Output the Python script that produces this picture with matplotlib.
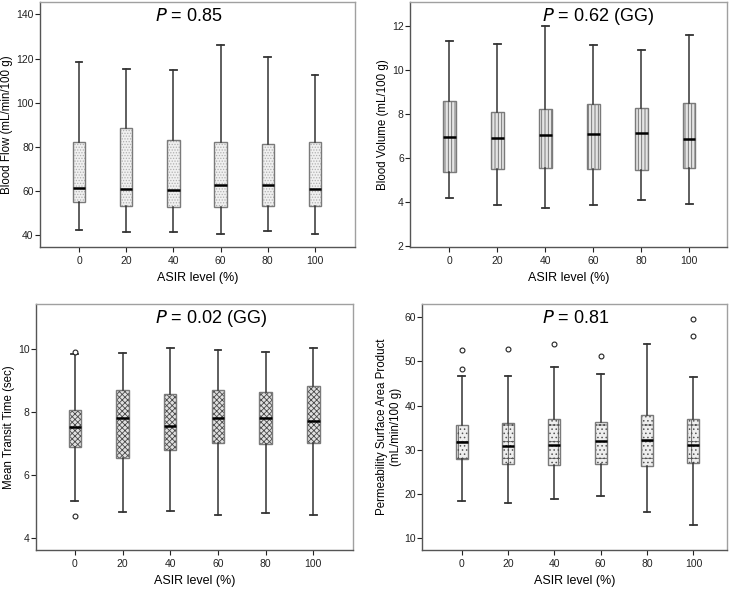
import numpy as np
import matplotlib
matplotlib.use('Agg')
import matplotlib.pyplot as plt
from matplotlib.colors import to_rgba

plt.rcParams['font.family'] = ['Liberation Sans', 'DejaVu Sans']
plt.rcParams['hatch.linewidth'] = 0.6

# ASIR levels (x categories)
levels = ['0', '20', '40', '60', '80', '100']

# Blood flow (mL/min/100 g)
bf_whislo = [42.3, 41.4, 41.2, 40.6, 42.0, 40.6]
bf_q1 = [54.8, 53.4, 52.7, 52.7, 53.0, 53.3]
bf_med = [61.3, 60.7, 60.5, 62.5, 62.5, 60.7]
bf_q3 = [82.0, 88.3, 83.2, 82.4, 81.1, 82.3]
bf_whishi = [118.5, 115.1, 114.6, 126.3, 120.5, 112.4]
bf_fliers = [[], [], [], [], [], []]

# Blood volume (mL/100 g)
bv_whislo = [4.18, 3.89, 3.73, 3.86, 4.11, 3.92]
bv_q1 = [5.40, 5.53, 5.58, 5.53, 5.47, 5.56]
bv_med = [6.95, 6.93, 7.05, 7.11, 7.14, 6.86]
bv_q3 = [8.62, 8.09, 8.24, 8.45, 8.29, 8.50]
bv_whishi = [11.34, 11.17, 12.03, 11.13, 10.92, 11.61]
bv_fliers = [[], [], [], [], [], []]

# Mean transit time (sec)
mtt_whislo = [5.19, 4.84, 4.86, 4.75, 4.79, 4.74]
mtt_q1 = [6.89, 6.55, 6.81, 7.02, 6.99, 7.02]
mtt_med = [7.53, 7.82, 7.57, 7.82, 7.82, 7.74]
mtt_q3 = [8.08, 8.70, 8.58, 8.72, 8.66, 8.83]
mtt_whishi = [9.84, 9.89, 10.05, 9.98, 9.90, 10.03]
mtt_fliers = [[9.93, 4.71], [], [], [], [], []]

# Permeability surface area product (mL/min/100 g)
ps_whislo = [18.5, 18.1, 18.8, 19.6, 15.9, 13.0]
ps_q1 = [27.9, 26.7, 26.5, 26.7, 26.4, 27.0]
ps_med = [31.8, 30.8, 31.0, 32.0, 32.2, 31.0]
ps_q3 = [35.6, 36.0, 37.1, 36.4, 38.0, 37.1]
ps_whishi = [46.8, 46.8, 48.8, 47.2, 53.9, 46.4]
ps_fliers = [[52.5, 48.2], [52.8], [54.0], [51.3], [], [59.5, 55.8]]

panels = [
    dict(lo=bf_whislo, q1=bf_q1, med=bf_med, q3=bf_q3, hi=bf_whishi, fl=bf_fliers,
         ylabel='Blood Flow (mL/min/100 g)', ptext='0.85', ylim=(34.6, 145.6),
         yticks=[40, 60, 80, 100, 120, 140], hatch='......', hcol='#b0b0b0', fcol='#f0f0f0',
         pos=[0.0547, 0.5806, 0.4309, 0.416], xlim=(-0.83, 5.85), tx=0.365),
    dict(lo=bv_whislo, q1=bv_q1, med=bv_med, q3=bv_q3, hi=bv_whishi, fl=bv_fliers,
         ylabel='Blood Volume (mL/100 g)', ptext='0.62 (GG)', ylim=(1.97, 13.1),
         yticks=[2, 4, 6, 8, 10, 12], hatch='|||||', hcol='#6a6a6a', fcol='#e4e4e4',
         pos=[0.5609, 0.5806, 0.4332, 0.416], xlim=(-0.82, 5.78), tx=0.417),
    dict(lo=mtt_whislo, q1=mtt_q1, med=mtt_med, q3=mtt_q3, hi=mtt_whishi, fl=mtt_fliers,
         ylabel='Mean Transit Time (sec)', ptext='0.02 (GG)', ylim=(3.63, 11.44),
         yticks=[4, 6, 8, 10], hatch='xxxxxx', hcol='#4a4a4a', fcol='#e0e0e0',
         pos=[0.0488, 0.0662, 0.434, 0.4177], xlim=(-0.82, 5.83), tx=0.376),
    dict(lo=ps_whislo, q1=ps_q1, med=ps_med, q3=ps_q3, hi=ps_whishi, fl=ps_fliers,
         ylabel='Permeability Surface Area Product\n(mL/min/100 g)', ptext='0.81', ylim=(7.36, 63.0),
         yticks=[10, 20, 30, 40, 50, 60], hatch='+....', hcol='#555555', fcol='#eeeeee',
         pos=[0.5777, 0.0662, 0.4172, 0.4177], xlim=(-0.85, 5.73), tx=0.392),
]

fig = plt.figure(figsize=(7.31, 5.89), dpi=100)

for p in panels:
    ax = fig.add_axes(p['pos'])
    stats = []
    for i in range(len(levels)):
        stats.append(dict(med=p['med'][i], q1=p['q1'][i], q3=p['q3'][i],
                          whislo=p['lo'][i], whishi=p['hi'][i], fliers=p['fl'][i]))
    bp = ax.bxp(stats, positions=np.arange(len(levels)), widths=0.26, capwidths=0.14,
                patch_artist=True, showfliers=True,
                boxprops=dict(facecolor=p['fcol'], edgecolor='#7a7a7a', linewidth=1.0),
                whiskerprops=dict(color='#333333', linewidth=1.1),
                capprops=dict(color='#333333', linewidth=1.3),
                medianprops=dict(color='black', linewidth=1.8),
                flierprops=dict(marker='o', markersize=3.5, markerfacecolor='white',
                                markeredgecolor='#222222', markeredgewidth=0.8))
    for box in bp['boxes']:
        box.set_hatch(p['hatch'])
        # hatch colour differs from the box outline
        box._hatch_color = to_rgba(p['hcol'])

    ax.set_xlim(p['xlim'])
    ax.set_ylim(p['ylim'])
    ax.set_xticks(np.arange(len(levels)))
    ax.set_xticklabels(levels)
    ax.set_yticks(p['yticks'])
    ax.tick_params(labelsize=7.5, length=3.5, width=0.8, colors='#222222', direction='out')
    ax.tick_params(axis='y', pad=1)
    ax.tick_params(axis='x', pad=3)
    ax.set_xlabel('ASIR level (%)', fontsize=9, labelpad=4)
    ax.set_ylabel(p['ylabel'], fontsize=8.3, labelpad=2)
    for side in ['left', 'bottom']:
        ax.spines[side].set_color('#555555')
    for side in ['top', 'right']:
        ax.spines[side].set_color('#a0a0a0')
    for s in ax.spines.values():
        s.set_linewidth(1.0)
    ax.text(p['tx'], 0.94, r'$\mathit{P}$' + ' = ' + p['ptext'], transform=ax.transAxes,
            fontsize=13, ha='left', va='center')

fig.savefig('out.png', dpi=100)
